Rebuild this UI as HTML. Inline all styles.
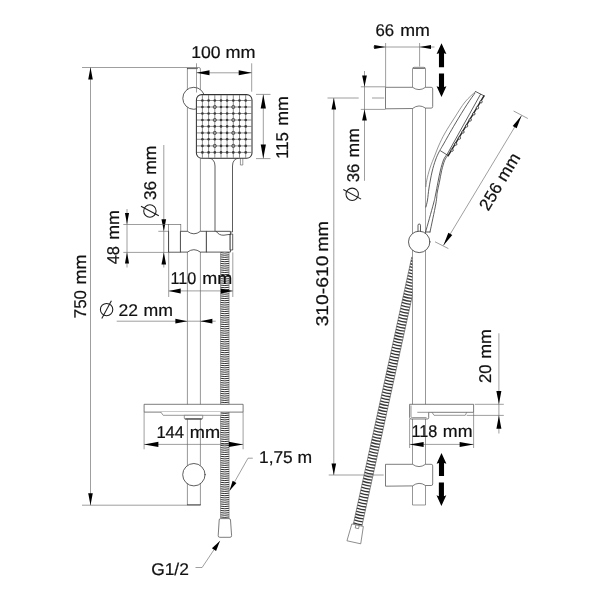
<!DOCTYPE html>
<html><head><meta charset="utf-8"><title>Shower set dimensions</title>
<style>
html,body{margin:0;padding:0;background:#fff;}
body{width:600px;height:600px;overflow:hidden;font-family:"Liberation Sans",sans-serif;}
svg{display:block;will-change:transform;filter:grayscale(1);}
svg text{font-family:"Liberation Sans",sans-serif;fill:#111;stroke:#111;stroke-width:0.22;text-rendering:geometricPrecision;}
.o{stroke:#333;stroke-width:0.8;fill:#fff;stroke-linejoin:round;stroke-linecap:round;}
.n{stroke:#333;stroke-width:0.8;fill:none;stroke-linejoin:round;stroke-linecap:round;}
.g{stroke:#6a6a6a;stroke-width:0.7;fill:#fff;}
.gn{stroke:#6a6a6a;stroke-width:0.7;fill:none;}
.d{stroke:#6a6a6a;stroke-width:0.65;fill:none;}
.t{stroke:#1c1c1c;stroke-width:1.05;fill:none;}
.m{stroke:#505050;stroke-width:0.75;fill:#fff;stroke-linejoin:round;}
.a{fill:#000;stroke:none;}
.k{fill:#000;stroke:none;}
</style></head>
<body>
<svg width="600" height="600" viewBox="0 0 600 600">
<rect x="0" y="0" width="600" height="600" fill="#fff"/>
<path class="g" d="M187.4,505 V67.5 H198.9 Q200.4,67.5 200.4,69 V505 Z"/>
<line class="n" x1="187.4" y1="504.9" x2="200.4" y2="504.9"/>
<line class="n" x1="187.4" y1="68.6" x2="197.4" y2="68.6"/>
<circle class="o" cx="193.8" cy="98.3" r="11"/>
<path class="o" d="M209.0,158 Q215,159 215,166 V232 H232.5 V166 Q232.5,159 238.6,158 Z"/>
<path class="g" d="M240.4,158 V165 H242.8 V158"/>
<rect class="o" style="stroke-width:1.05" x="196.4" y="94.6" width="55.6" height="63.7" rx="5.3" ry="5.3"/>
<g stroke="#5a5a5a" stroke-width="0.7" fill="none"><line x1="202.4" y1="95.1" x2="202.4" y2="157.8"/><line x1="208.6" y1="95.1" x2="208.6" y2="157.8"/><line x1="214.8" y1="95.1" x2="214.8" y2="157.8"/><line x1="221.0" y1="95.1" x2="221.0" y2="157.8"/><line x1="227.1" y1="95.1" x2="227.1" y2="157.8"/><line x1="233.3" y1="95.1" x2="233.3" y2="157.8"/><line x1="239.5" y1="95.1" x2="239.5" y2="157.8"/><line x1="245.7" y1="95.1" x2="245.7" y2="157.8"/><line x1="196.9" y1="100.5" x2="251.5" y2="100.5"/><line x1="196.9" y1="107.0" x2="251.5" y2="107.0"/><line x1="196.9" y1="113.5" x2="251.5" y2="113.5"/><line x1="196.9" y1="120.0" x2="251.5" y2="120.0"/><line x1="196.9" y1="126.4" x2="251.5" y2="126.4"/><line x1="196.9" y1="132.9" x2="251.5" y2="132.9"/><line x1="196.9" y1="139.3" x2="251.5" y2="139.3"/><line x1="196.9" y1="145.9" x2="251.5" y2="145.9"/><line x1="196.9" y1="152.4" x2="251.5" y2="152.4"/></g>
<g fill="#3a3a3a"><circle cx="202.4" cy="100.5" r="1.3"/><circle cx="202.4" cy="107.0" r="1.3"/><circle cx="202.4" cy="113.5" r="1.3"/><circle cx="202.4" cy="120.0" r="1.3"/><circle cx="202.4" cy="126.4" r="1.3"/><circle cx="202.4" cy="132.9" r="1.3"/><circle cx="202.4" cy="139.3" r="1.3"/><circle cx="202.4" cy="145.9" r="1.3"/><circle cx="202.4" cy="152.4" r="1.3"/><circle cx="208.6" cy="100.5" r="1.3"/><circle cx="208.6" cy="107.0" r="1.3"/><circle cx="208.6" cy="113.5" r="1.3"/><circle cx="208.6" cy="120.0" r="1.3"/><circle cx="208.6" cy="126.4" r="1.3"/><circle cx="208.6" cy="132.9" r="1.3"/><circle cx="208.6" cy="139.3" r="1.3"/><circle cx="208.6" cy="145.9" r="1.3"/><circle cx="208.6" cy="152.4" r="1.3"/><circle cx="214.8" cy="100.5" r="1.3"/><circle cx="214.8" cy="107.0" r="1.3"/><circle cx="214.8" cy="113.5" r="1.3"/><circle cx="214.8" cy="120.0" r="1.3"/><circle cx="214.8" cy="126.4" r="1.3"/><circle cx="214.8" cy="132.9" r="1.3"/><circle cx="214.8" cy="139.3" r="1.3"/><circle cx="214.8" cy="145.9" r="1.3"/><circle cx="214.8" cy="152.4" r="1.3"/><circle cx="221.0" cy="100.5" r="1.3"/><circle cx="221.0" cy="107.0" r="1.3"/><circle cx="221.0" cy="113.5" r="1.3"/><circle cx="221.0" cy="120.0" r="1.3"/><circle cx="221.0" cy="126.4" r="1.3"/><circle cx="221.0" cy="132.9" r="1.3"/><circle cx="221.0" cy="139.3" r="1.3"/><circle cx="221.0" cy="145.9" r="1.3"/><circle cx="221.0" cy="152.4" r="1.3"/><circle cx="227.1" cy="100.5" r="1.3"/><circle cx="227.1" cy="107.0" r="1.3"/><circle cx="227.1" cy="113.5" r="1.3"/><circle cx="227.1" cy="120.0" r="1.3"/><circle cx="227.1" cy="126.4" r="1.3"/><circle cx="227.1" cy="132.9" r="1.3"/><circle cx="227.1" cy="139.3" r="1.3"/><circle cx="227.1" cy="145.9" r="1.3"/><circle cx="227.1" cy="152.4" r="1.3"/><circle cx="233.3" cy="100.5" r="1.3"/><circle cx="233.3" cy="107.0" r="1.3"/><circle cx="233.3" cy="113.5" r="1.3"/><circle cx="233.3" cy="120.0" r="1.3"/><circle cx="233.3" cy="126.4" r="1.3"/><circle cx="233.3" cy="132.9" r="1.3"/><circle cx="233.3" cy="139.3" r="1.3"/><circle cx="233.3" cy="145.9" r="1.3"/><circle cx="233.3" cy="152.4" r="1.3"/><circle cx="239.5" cy="100.5" r="1.3"/><circle cx="239.5" cy="107.0" r="1.3"/><circle cx="239.5" cy="113.5" r="1.3"/><circle cx="239.5" cy="120.0" r="1.3"/><circle cx="239.5" cy="126.4" r="1.3"/><circle cx="239.5" cy="132.9" r="1.3"/><circle cx="239.5" cy="139.3" r="1.3"/><circle cx="239.5" cy="145.9" r="1.3"/><circle cx="239.5" cy="152.4" r="1.3"/><circle cx="245.7" cy="100.5" r="1.3"/><circle cx="245.7" cy="107.0" r="1.3"/><circle cx="245.7" cy="113.5" r="1.3"/><circle cx="245.7" cy="120.0" r="1.3"/><circle cx="245.7" cy="126.4" r="1.3"/><circle cx="245.7" cy="132.9" r="1.3"/><circle cx="245.7" cy="139.3" r="1.3"/><circle cx="245.7" cy="145.9" r="1.3"/><circle cx="245.7" cy="152.4" r="1.3"/></g>
<g fill="#9a9a9a" stroke="#444" stroke-width="0.8"><circle cx="214.8" cy="107.0" r="1.6"/><circle cx="214.8" cy="120.0" r="1.6"/><circle cx="214.8" cy="132.9" r="1.6"/><circle cx="214.8" cy="145.9" r="1.6"/><circle cx="233.3" cy="107.0" r="1.6"/><circle cx="233.3" cy="120.0" r="1.6"/><circle cx="233.3" cy="132.9" r="1.6"/><circle cx="233.3" cy="145.9" r="1.6"/></g>
<rect class="g" x="168.6" y="224.5" width="12.2" height="27.6"/>
<line class="n" x1="168.6" y1="231.3" x2="168.6" y2="252.1"/>
<path class="o" d="M180.8,231.3 H187.4 Q193.9,236.3 200.4,231.3 H206.7 V252.1 H200.4 Q193.9,247.3 187.4,252.1 H180.8 Z"/>
<path class="o" d="M206.7,231.3 H230.4 V252.1 H206.7 Z"/>
<path class="o" d="M230.4,234 H232.7 V250 H230.4 Z"/>
<path class="n" d="M216.3,231.5 Q219,235.6 224,235.2 Q228.5,234.4 230.4,234.4"/>
<rect x="220.5" y="252.1" width="8.6" height="266.5" fill="#fff"/>
<path d="M220.50,252.60Q224.80,253.50 229.10,252.60M220.50,254.77Q224.80,255.67 229.10,254.77M220.50,256.93Q224.80,257.83 229.10,256.93M220.50,259.10Q224.80,260.00 229.10,259.10M220.50,261.27Q224.80,262.17 229.10,261.27M220.50,263.43Q224.80,264.33 229.10,263.43M220.50,265.60Q224.80,266.50 229.10,265.60M220.50,267.77Q224.80,268.67 229.10,267.77M220.50,269.94Q224.80,270.84 229.10,269.94M220.50,272.10Q224.80,273.00 229.10,272.10M220.50,274.27Q224.80,275.17 229.10,274.27M220.50,276.44Q224.80,277.34 229.10,276.44M220.50,278.60Q224.80,279.50 229.10,278.60M220.50,280.77Q224.80,281.67 229.10,280.77M220.50,282.94Q224.80,283.84 229.10,282.94M220.50,285.10Q224.80,286.00 229.10,285.10M220.50,287.27Q224.80,288.17 229.10,287.27M220.50,289.44Q224.80,290.34 229.10,289.44M220.50,291.61Q224.80,292.51 229.10,291.61M220.50,293.77Q224.80,294.67 229.10,293.77M220.50,295.94Q224.80,296.84 229.10,295.94M220.50,298.11Q224.80,299.01 229.10,298.11M220.50,300.27Q224.80,301.17 229.10,300.27M220.50,302.44Q224.80,303.34 229.10,302.44M220.50,304.61Q224.80,305.51 229.10,304.61M220.50,306.77Q224.80,307.67 229.10,306.77M220.50,308.94Q224.80,309.84 229.10,308.94M220.50,311.11Q224.80,312.01 229.10,311.11M220.50,313.28Q224.80,314.18 229.10,313.28M220.50,315.44Q224.80,316.34 229.10,315.44M220.50,317.61Q224.80,318.51 229.10,317.61M220.50,319.78Q224.80,320.68 229.10,319.78M220.50,321.94Q224.80,322.84 229.10,321.94M220.50,324.11Q224.80,325.01 229.10,324.11M220.50,326.28Q224.80,327.18 229.10,326.28M220.50,328.44Q224.80,329.34 229.10,328.44M220.50,330.61Q224.80,331.51 229.10,330.61M220.50,332.78Q224.80,333.68 229.10,332.78M220.50,334.95Q224.80,335.85 229.10,334.95M220.50,337.11Q224.80,338.01 229.10,337.11M220.50,339.28Q224.80,340.18 229.10,339.28M220.50,341.45Q224.80,342.35 229.10,341.45M220.50,343.61Q224.80,344.51 229.10,343.61M220.50,345.78Q224.80,346.68 229.10,345.78M220.50,347.95Q224.80,348.85 229.10,347.95M220.50,350.11Q224.80,351.01 229.10,350.11M220.50,352.28Q224.80,353.18 229.10,352.28M220.50,354.45Q224.80,355.35 229.10,354.45M220.50,356.62Q224.80,357.52 229.10,356.62M220.50,358.78Q224.80,359.68 229.10,358.78M220.50,360.95Q224.80,361.85 229.10,360.95M220.50,363.12Q224.80,364.02 229.10,363.12M220.50,365.28Q224.80,366.18 229.10,365.28M220.50,367.45Q224.80,368.35 229.10,367.45M220.50,369.62Q224.80,370.52 229.10,369.62M220.50,371.78Q224.80,372.68 229.10,371.78M220.50,373.95Q224.80,374.85 229.10,373.95M220.50,376.12Q224.80,377.02 229.10,376.12M220.50,378.29Q224.80,379.19 229.10,378.29M220.50,380.45Q224.80,381.35 229.10,380.45M220.50,382.62Q224.80,383.52 229.10,382.62M220.50,384.79Q224.80,385.69 229.10,384.79M220.50,386.95Q224.80,387.85 229.10,386.95M220.50,389.12Q224.80,390.02 229.10,389.12M220.50,391.29Q224.80,392.19 229.10,391.29M220.50,393.45Q224.80,394.35 229.10,393.45M220.50,395.62Q224.80,396.52 229.10,395.62M220.50,397.79Q224.80,398.69 229.10,397.79M220.50,399.96Q224.80,400.86 229.10,399.96M220.50,402.12Q224.80,403.02 229.10,402.12M220.50,404.29Q224.80,405.19 229.10,404.29M220.50,406.46Q224.80,407.36 229.10,406.46M220.50,408.62Q224.80,409.52 229.10,408.62M220.50,410.79Q224.80,411.69 229.10,410.79M220.50,412.96Q224.80,413.86 229.10,412.96M220.50,415.12Q224.80,416.02 229.10,415.12M220.50,417.29Q224.80,418.19 229.10,417.29M220.50,419.46Q224.80,420.36 229.10,419.46M220.50,421.63Q224.80,422.53 229.10,421.63M220.50,423.79Q224.80,424.69 229.10,423.79M220.50,425.96Q224.80,426.86 229.10,425.96M220.50,428.13Q224.80,429.03 229.10,428.13M220.50,430.29Q224.80,431.19 229.10,430.29M220.50,432.46Q224.80,433.36 229.10,432.46M220.50,434.63Q224.80,435.53 229.10,434.63M220.50,436.79Q224.80,437.69 229.10,436.79M220.50,438.96Q224.80,439.86 229.10,438.96M220.50,441.13Q224.80,442.03 229.10,441.13M220.50,443.30Q224.80,444.20 229.10,443.30M220.50,445.46Q224.80,446.36 229.10,445.46M220.50,447.63Q224.80,448.53 229.10,447.63M220.50,449.80Q224.80,450.70 229.10,449.80M220.50,451.96Q224.80,452.86 229.10,451.96M220.50,454.13Q224.80,455.03 229.10,454.13M220.50,456.30Q224.80,457.20 229.10,456.30M220.50,458.46Q224.80,459.36 229.10,458.46M220.50,460.63Q224.80,461.53 229.10,460.63M220.50,462.80Q224.80,463.70 229.10,462.80M220.50,464.97Q224.80,465.87 229.10,464.97M220.50,467.13Q224.80,468.03 229.10,467.13M220.50,469.30Q224.80,470.20 229.10,469.30M220.50,471.47Q224.80,472.37 229.10,471.47M220.50,473.63Q224.80,474.53 229.10,473.63M220.50,475.80Q224.80,476.70 229.10,475.80M220.50,477.97Q224.80,478.87 229.10,477.97M220.50,480.13Q224.80,481.03 229.10,480.13M220.50,482.30Q224.80,483.20 229.10,482.30M220.50,484.47Q224.80,485.37 229.10,484.47M220.50,486.64Q224.80,487.54 229.10,486.64M220.50,488.80Q224.80,489.70 229.10,488.80M220.50,490.97Q224.80,491.87 229.10,490.97M220.50,493.14Q224.80,494.04 229.10,493.14M220.50,495.30Q224.80,496.20 229.10,495.30M220.50,497.47Q224.80,498.37 229.10,497.47M220.50,499.64Q224.80,500.54 229.10,499.64M220.50,501.80Q224.80,502.70 229.10,501.80M220.50,503.97Q224.80,504.87 229.10,503.97M220.50,506.14Q224.80,507.04 229.10,506.14M220.50,508.31Q224.80,509.21 229.10,508.31M220.50,510.47Q224.80,511.37 229.10,510.47M220.50,512.64Q224.80,513.54 229.10,512.64M220.50,514.81Q224.80,515.71 229.10,514.81M220.50,516.97Q224.80,517.87 229.10,516.97" stroke="#262626" stroke-width="0.95" fill="none"/>
<path d="M220.5,252.1V518.6M229.1,252.1V518.6" stroke="#666" stroke-width="0.55" fill="none"/>
<path class="m" d="M219.2,520 Q219.2,518.6 220.6,518.6 H229.0 Q230.4,518.6 230.5,520 L231.6,535.7 Q231.6,537.3 230,537.3 H219.8 Q218.1,537.3 218.2,535.7 Z"/>
<rect class="m" x="144.1" y="404.3" width="99" height="7.8"/>
<path d="M160.8,412.1 L163.2,415.3 H220.5 V412.1 Z" fill="#fff" stroke="none"/>
<path class="gn" d="M160.8,412.1 L163.2,415.3 H220.5"/>
<path class="g" d="M184.3,415.3 H202.7 V418 Q202.7,419.2 201.5,419.2 H185.5 Q184.3,419.2 184.3,418 Z"/>
<path d="M185.2,418.9 H201.8" stroke="#333" stroke-width="1.1" fill="none"/>
<circle class="o" cx="193.9" cy="474.7" r="11.2"/>
<line class="d" x1="82" y1="67.5" x2="187.4" y2="67.5"/>
<line class="d" x1="82" y1="505.2" x2="187.4" y2="505.2"/>
<line class="d" x1="90.5" y1="67.5" x2="90.5" y2="505.2"/>
<polygon class="a" points="90.50,67.50 92.80,79.50 88.20,79.50"/>
<polygon class="a" points="90.50,505.20 88.20,493.20 92.80,493.20"/>
<line class="d" x1="196.5" y1="63.3" x2="196.5" y2="92.5"/>
<line class="d" x1="251.7" y1="63.3" x2="251.7" y2="91.7"/>
<line class="d" x1="196.5" y1="72.8" x2="251.7" y2="72.8"/>
<polygon class="a" points="196.50,72.80 209.50,70.30 209.50,75.30"/>
<polygon class="a" points="251.70,72.80 238.70,75.30 238.70,70.30"/>
<line class="d" x1="256" y1="94.4" x2="270.5" y2="94.4"/>
<line class="d" x1="256" y1="158.6" x2="270.5" y2="158.6"/>
<line class="d" x1="263.3" y1="94.6" x2="263.3" y2="158.3"/>
<polygon class="a" points="263.30,94.40 265.90,108.60 260.70,108.60"/>
<polygon class="a" points="263.30,158.60 260.70,144.40 265.90,144.40"/>
<line class="d" x1="163.8" y1="145" x2="163.8" y2="267.5"/>
<polygon class="a" points="163.80,231.30 161.50,219.30 166.10,219.30"/>
<polygon class="a" points="163.80,252.40 166.10,264.40 161.50,264.40"/>
<line class="d" x1="158.3" y1="231.3" x2="168.6" y2="231.3"/>
<line class="d" x1="127" y1="209" x2="127" y2="267.5"/>
<polygon class="a" points="127.00,224.30 124.95,213.10 129.05,213.10"/>
<polygon class="a" points="127.00,252.20 129.05,263.40 124.95,263.40"/>
<line class="d" x1="123.3" y1="224.5" x2="168.6" y2="224.5"/>
<line class="d" x1="123.3" y1="252.4" x2="180.8" y2="252.4"/>
<line class="d" x1="168.7" y1="252.4" x2="168.7" y2="297"/>
<line class="d" x1="232.8" y1="252.4" x2="232.8" y2="297"/>
<line class="d" x1="168.7" y1="290.9" x2="232.8" y2="290.9"/>
<polygon class="a" points="168.70,290.90 180.70,288.40 180.70,293.40"/>
<polygon class="a" points="232.80,290.90 220.80,293.40 220.80,288.40"/>
<line class="d" x1="116.7" y1="321.2" x2="215.7" y2="321.2"/>
<polygon class="a" points="187.40,321.20 175.40,323.60 175.40,318.80"/>
<polygon class="a" points="200.40,321.20 212.40,318.80 212.40,323.60"/>
<line class="d" x1="144.1" y1="412.1" x2="144.1" y2="449.3"/>
<line class="d" x1="243.1" y1="412.1" x2="243.1" y2="449.3"/>
<line class="d" x1="144.1" y1="444.4" x2="243.1" y2="444.4"/>
<polygon class="a" points="144.10,444.40 158.40,441.85 158.40,446.95"/>
<polygon class="a" points="243.10,444.40 228.80,446.95 228.80,441.85"/>
<polyline class="d" points="252.8,458.2 248,458.2 229.5,490.8"/>
<polygon class="a" points="229.50,490.80 232.63,480.84 236.45,483.02"/>
<polyline class="d" points="195.5,567.5 202.1,567.5 219.9,540.9"/>
<polygon class="a" points="219.90,540.90 216.08,551.10 211.93,548.32"/>
<g transform="translate(418.5,247) rotate(12.35)"><rect x="-4.4" y="11" width="8.8" height="273.8" fill="#fff"/><path d="M-4.40,12.00Q0.00,12.70 4.40,12.00M-4.40,15.05Q0.00,15.75 4.40,15.05M-4.40,18.10Q0.00,18.80 4.40,18.10M-4.40,21.15Q0.00,21.85 4.40,21.15M-4.40,24.20Q0.00,24.90 4.40,24.20M-4.40,27.25Q0.00,27.95 4.40,27.25M-4.40,30.30Q0.00,31.00 4.40,30.30M-4.40,33.35Q0.00,34.05 4.40,33.35M-4.40,36.40Q0.00,37.10 4.40,36.40M-4.40,39.45Q0.00,40.15 4.40,39.45M-4.40,42.50Q0.00,43.20 4.40,42.50M-4.40,45.55Q0.00,46.25 4.40,45.55M-4.40,48.60Q0.00,49.30 4.40,48.60M-4.40,51.65Q0.00,52.35 4.40,51.65M-4.40,54.70Q0.00,55.40 4.40,54.70M-4.40,57.75Q0.00,58.45 4.40,57.75M-4.40,60.80Q0.00,61.50 4.40,60.80M-4.40,63.85Q0.00,64.55 4.40,63.85M-4.40,66.90Q0.00,67.60 4.40,66.90M-4.40,69.95Q0.00,70.65 4.40,69.95M-4.40,73.00Q0.00,73.70 4.40,73.00M-4.40,76.05Q0.00,76.75 4.40,76.05M-4.40,79.10Q0.00,79.80 4.40,79.10M-4.40,82.15Q0.00,82.85 4.40,82.15M-4.40,85.20Q0.00,85.90 4.40,85.20M-4.40,88.25Q0.00,88.95 4.40,88.25M-4.40,91.30Q0.00,92.00 4.40,91.30M-4.40,94.35Q0.00,95.05 4.40,94.35M-4.40,97.40Q0.00,98.10 4.40,97.40M-4.40,100.45Q0.00,101.15 4.40,100.45M-4.40,103.50Q0.00,104.20 4.40,103.50M-4.40,106.55Q0.00,107.25 4.40,106.55M-4.40,109.60Q0.00,110.30 4.40,109.60M-4.40,112.65Q0.00,113.35 4.40,112.65M-4.40,115.70Q0.00,116.40 4.40,115.70M-4.40,118.75Q0.00,119.45 4.40,118.75M-4.40,121.80Q0.00,122.50 4.40,121.80M-4.40,124.85Q0.00,125.55 4.40,124.85M-4.40,127.90Q0.00,128.60 4.40,127.90M-4.40,130.95Q0.00,131.65 4.40,130.95M-4.40,134.00Q0.00,134.70 4.40,134.00M-4.40,137.05Q0.00,137.75 4.40,137.05M-4.40,140.10Q0.00,140.80 4.40,140.10M-4.40,143.15Q0.00,143.85 4.40,143.15M-4.40,146.20Q0.00,146.90 4.40,146.20M-4.40,149.25Q0.00,149.95 4.40,149.25M-4.40,152.30Q0.00,153.00 4.40,152.30M-4.40,155.35Q0.00,156.05 4.40,155.35M-4.40,158.40Q0.00,159.10 4.40,158.40M-4.40,161.45Q0.00,162.15 4.40,161.45M-4.40,164.50Q0.00,165.20 4.40,164.50M-4.40,167.55Q0.00,168.25 4.40,167.55M-4.40,170.60Q0.00,171.30 4.40,170.60M-4.40,173.65Q0.00,174.35 4.40,173.65M-4.40,176.70Q0.00,177.40 4.40,176.70M-4.40,179.75Q0.00,180.45 4.40,179.75M-4.40,182.80Q0.00,183.50 4.40,182.80M-4.40,185.85Q0.00,186.55 4.40,185.85M-4.40,188.90Q0.00,189.60 4.40,188.90M-4.40,191.95Q0.00,192.65 4.40,191.95M-4.40,195.00Q0.00,195.70 4.40,195.00M-4.40,198.05Q0.00,198.75 4.40,198.05M-4.40,201.10Q0.00,201.80 4.40,201.10M-4.40,204.15Q0.00,204.85 4.40,204.15M-4.40,207.20Q0.00,207.90 4.40,207.20M-4.40,210.25Q0.00,210.95 4.40,210.25M-4.40,213.30Q0.00,214.00 4.40,213.30M-4.40,216.35Q0.00,217.05 4.40,216.35M-4.40,219.40Q0.00,220.10 4.40,219.40M-4.40,222.45Q0.00,223.15 4.40,222.45M-4.40,225.50Q0.00,226.20 4.40,225.50M-4.40,228.55Q0.00,229.25 4.40,228.55M-4.40,231.60Q0.00,232.30 4.40,231.60M-4.40,234.65Q0.00,235.35 4.40,234.65M-4.40,237.70Q0.00,238.40 4.40,237.70M-4.40,240.75Q0.00,241.45 4.40,240.75M-4.40,243.80Q0.00,244.50 4.40,243.80M-4.40,246.85Q0.00,247.55 4.40,246.85M-4.40,249.90Q0.00,250.60 4.40,249.90M-4.40,252.95Q0.00,253.65 4.40,252.95M-4.40,256.00Q0.00,256.70 4.40,256.00M-4.40,259.05Q0.00,259.75 4.40,259.05M-4.40,262.10Q0.00,262.80 4.40,262.10M-4.40,265.15Q0.00,265.85 4.40,265.15M-4.40,268.20Q0.00,268.90 4.40,268.20M-4.40,271.25Q0.00,271.95 4.40,271.25M-4.40,274.30Q0.00,275.00 4.40,274.30M-4.40,277.35Q0.00,278.05 4.40,277.35M-4.40,280.40Q0.00,281.10 4.40,280.40M-4.40,283.45Q0.00,284.15 4.40,283.45" stroke="#363636" stroke-width="1.4" fill="none"/><path d="M-4.4,11V284.8M4.4,11V284.8" stroke="#555" stroke-width="0.6" fill="none"/><path class="g" d="M-5.9,284.8 H5.9 L7.05,302.3 H-7.05 Z"/><rect class="g" x="-1.7" y="284.8" width="3.4" height="3.2"/></g>
<path class="g" d="M412.5,505 V69 Q412.5,67.3 414.1,67.3 H423.9 Q425.5,67.3 425.5,69 V505 Z"/>
<line class="n" x1="413.5" y1="68.3" x2="424.5" y2="68.3"/>
<path class="m" d="M385.5,87.3 H412.5 Q419.0,91.89999999999999 425.5,87.3 H431.2 Q432.7,87.3 432.7,88.8 V106.6 Q432.7,108.1 431.2,108.1 H425.5 Q419.0,103.6 412.5,108.5 L385.5,108.8 Z"/>
<path class="m" d="M385.5,464.3 H412.5 Q419.0,468.90000000000003 425.5,464.3 H431.2 Q432.7,464.3 432.7,465.8 V484.0 Q432.7,485.5 431.2,485.5 H425.5 Q419.0,481.0 412.5,485.9 L385.5,486.2 Z"/>
<polygon fill="#fff" stroke="none" points="475.5,91.5 465,102 455,117 445,133 439,145 435,155 430,168 426.8,180 425.9,187 425.9,232 430,232 430,232 435.8,204 437.3,192 439.4,182.3 441.7,170.4 444.6,160.6 447.6,155.6 455,144 484,95.8"/>
<path class="gn" d="M475.50,91.50 C473.75,93.25 468.42,97.75 465.00,102.00 C461.58,106.25 458.33,111.83 455.00,117.00 C451.67,122.17 447.67,128.33 445.00,133.00 C442.33,137.67 440.67,141.33 439.00,145.00 C437.33,148.67 436.50,151.17 435.00,155.00 C433.50,158.83 431.37,163.83 430.00,168.00 C428.63,172.17 427.48,176.83 426.80,180.00 C426.12,183.17 426.05,185.83 425.90,187.00"/>
<path class="n" d="M475.00,93.00 C473.67,94.92 470.33,99.33 467.00,104.50 C463.67,109.67 459.00,117.25 455.00,124.00 C451.00,130.75 445.67,140.33 443.00,145.00 C440.33,149.67 440.25,149.50 439.00,152.00 C437.75,154.50 436.67,156.67 435.50,160.00 C434.33,163.33 433.08,167.33 432.00,172.00 C430.92,176.67 429.75,183.33 429.00,188.00 C428.25,192.67 428.02,196.83 427.50,200.00 C426.98,203.17 426.17,205.83 425.90,207.00"/>
<path class="n" d="M446.50,155.00 C446.00,155.83 444.50,157.50 443.50,160.00 C442.50,162.50 441.42,166.33 440.50,170.00 C439.58,173.67 438.83,177.83 438.00,182.00 C437.17,186.17 436.27,191.33 435.50,195.00 C434.73,198.67 435.05,197.83 433.40,204.00 C431.75,210.17 426.90,227.33 425.60,232.00"/>
<path class="n" d="M447.60,155.60 C447.10,156.43 445.58,158.13 444.60,160.60 C443.62,163.07 442.57,166.78 441.70,170.40 C440.83,174.02 440.13,178.70 439.40,182.30 C438.67,185.90 437.90,188.38 437.30,192.00 C436.70,195.62 437.02,197.33 435.80,204.00 C434.58,210.67 430.97,227.33 430.00,232.00"/>
<line class="n" x1="425.6" y1="232" x2="430" y2="232"/>
<path class="n" d="M475.5,91.5 L484,95.8"/>
<path class="n" d="M480.5,94.3 L447.0,154.6"/>
<path d="M484,95.8 L448.2,155.6" stroke="#2a2a2a" stroke-width="1.5" fill="none" stroke-linecap="round"/>
<line class="n" x1="440.5" y1="150.8" x2="448.2" y2="155.6"/>
<g fill="#fff" stroke="#2a2a2a" stroke-width="0.8"><circle cx="481.08" cy="101.75" r="1.2"/><circle cx="477.46" cy="107.79" r="1.2"/><circle cx="473.84" cy="113.84" r="1.2"/><circle cx="470.22" cy="119.89" r="1.2"/><circle cx="466.60" cy="125.94" r="1.2"/><circle cx="462.98" cy="131.99" r="1.2"/><circle cx="459.36" cy="138.04" r="1.2"/><circle cx="455.74" cy="144.09" r="1.2"/><circle cx="452.12" cy="150.14" r="1.2"/></g>
<path class="o" d="M418,231.5 V225.2 Q418,224 419.2,224 Q420.5,224 420.5,225.2 V231.5"/>
<circle class="o" cx="419.2" cy="241.9" r="10.7"/>
<path class="m" d="M409.6,404.3 H473.6 V412.3 H428.7 V417.6 Q428.7,419 427.3,419 H411 Q409.6,419 409.6,417.6 Z"/>
<path class="gn" d="M417.3,412.3 H428.7 M432,412.3 L434,415.3 H465.3 L466.7,412.3"/>
<path class="gn" d="M411,405.5 V416.5 Q411,417.6 412.2,417.6 H426.5" stroke="#999"/>
<path class="k" d="M441.5,43.3 L446.4,54.099999999999994 L444.05,53.199999999999996 V67.2 H438.95 V53.199999999999996 L436.6,54.099999999999994 Z"/>
<path class="k" d="M441.5,97.0 L446.4,86.2 L444.05,87.10000000000001 V73.4 H438.95 V87.10000000000001 L436.6,86.2 Z"/>
<path class="k" d="M441.5,453.0 L446.4,463.8 L444.05,462.90000000000003 V476.0 H438.95 V462.90000000000003 L436.6,463.8 Z"/>
<path class="k" d="M441.4,506.1 L446.29999999999995,495.3 L443.95,496.2 V482.4 H438.84999999999997 V496.2 L436.5,495.3 Z"/>
<line class="d" x1="385.6" y1="43" x2="385.6" y2="87.3"/>
<line class="d" x1="419.6" y1="43" x2="419.6" y2="66.5"/>
<line class="d" x1="373" y1="47" x2="434.5" y2="47"/>
<polygon class="a" points="385.60,47.00 374.20,48.95 374.20,45.05"/>
<polygon class="a" points="419.60,47.00 431.00,45.05 431.00,48.95"/>
<line class="d" x1="360.8" y1="86.8" x2="385.5" y2="86.8"/>
<line class="d" x1="360.8" y1="109.4" x2="385.5" y2="109.4"/>
<line class="d" x1="364.5" y1="71" x2="364.5" y2="180.8"/>
<polygon class="a" points="364.50,86.80 362.15,75.60 366.85,75.60"/>
<polygon class="a" points="364.50,109.40 366.85,120.60 362.15,120.60"/>
<line class="d" x1="327.5" y1="98" x2="358.7" y2="98"/>
<line class="d" x1="372" y1="98" x2="384.2" y2="98"/>
<line class="d" x1="333.8" y1="98" x2="333.8" y2="475"/>
<line class="d" x1="328.7" y1="475" x2="383.7" y2="475"/>
<polygon class="a" points="333.80,98.00 336.10,109.60 331.50,109.60"/>
<polygon class="a" points="333.80,475.00 331.50,463.40 336.10,463.40"/>
<line class="d" x1="443.4" y1="245.4" x2="521.6" y2="115.6"/>
<polygon class="a" points="443.40,245.40 448.34,232.74 452.29,235.11"/>
<polygon class="a" points="521.60,115.60 516.66,128.26 512.71,125.89"/>
<line class="d" x1="435" y1="241.8" x2="448.4" y2="248.6"/>
<line class="d" x1="513.6" y1="111" x2="527.8" y2="118.5"/>
<line class="d" x1="474.8" y1="404.3" x2="503.8" y2="404.3"/>
<line class="d" x1="466.7" y1="415.4" x2="503.8" y2="415.4"/>
<line class="d" x1="498.9" y1="333.3" x2="498.9" y2="433.5"/>
<polygon class="a" points="498.90,404.30 496.40,390.90 501.40,390.90"/>
<polygon class="a" points="498.90,415.40 501.40,428.80 496.40,428.80"/>
<line class="d" x1="409.6" y1="419" x2="409.6" y2="448"/>
<line class="d" x1="473.6" y1="412.3" x2="473.6" y2="448"/>
<line class="d" x1="409.6" y1="444.4" x2="473.6" y2="444.4"/>
<polygon class="a" points="409.60,444.40 423.60,441.90 423.60,446.90"/>
<polygon class="a" points="473.60,444.40 459.60,446.90 459.60,441.90"/>
<g transform="translate(0 58.0)"><text x="191.31" y="0" font-size="17.0" textLength="29.33" lengthAdjust="spacingAndGlyphs">100</text><text x="225.45" y="0" font-size="17.0" textLength="29.98" lengthAdjust="spacingAndGlyphs">mm</text></g>
<g transform="translate(0 283.8)"><text x="170.47" y="0" font-size="17.0" textLength="25.78" lengthAdjust="spacingAndGlyphs">110</text><text x="202.15" y="0" font-size="17.0" textLength="29.98" lengthAdjust="spacingAndGlyphs">mm</text></g>
<g transform="translate(0 438.0)"><text x="156.38" y="0" font-size="17.0" textLength="27.75" lengthAdjust="spacingAndGlyphs">144</text><text x="189.84" y="0" font-size="17.0" textLength="30.31" lengthAdjust="spacingAndGlyphs">mm</text></g>
<g transform="translate(0 315.9)"><text x="118.47" y="0" font-size="17.0" textLength="19.46" lengthAdjust="spacingAndGlyphs">22</text><text x="143.48" y="0" font-size="17.0" textLength="29.44" lengthAdjust="spacingAndGlyphs">mm</text></g>
<g><circle class="t" cx="106.6" cy="309.6" r="6.2"/><line class="t" x1="101.8" y1="318.5" x2="111.39999999999999" y2="300.70000000000005"/></g>
<g transform="translate(0 463.0)"><text x="259.03" y="0" font-size="17.0" textLength="33.75" lengthAdjust="spacingAndGlyphs">1,75</text><text x="297.48" y="0" font-size="17.0" textLength="14.62" lengthAdjust="spacingAndGlyphs">m</text></g>
<g transform="translate(0 574.8)"><text x="151.18" y="0" font-size="17.0" textLength="37.65" lengthAdjust="spacingAndGlyphs">G1/2</text></g>
<g transform="translate(0 36.4)"><text x="375.40" y="0" font-size="17.0" textLength="18.69" lengthAdjust="spacingAndGlyphs">66</text><text x="400.17" y="0" font-size="17.0" textLength="29.66" lengthAdjust="spacingAndGlyphs">mm</text></g>
<g transform="translate(0 437.2)"><text x="411.47" y="0" font-size="17.0" textLength="25.85" lengthAdjust="spacingAndGlyphs">118</text><text x="442.87" y="0" font-size="17.0" textLength="29.66" lengthAdjust="spacingAndGlyphs">mm</text></g>
<g transform="translate(287.8 0) rotate(-90)"><text x="-158.87" y="0" font-size="17.0" textLength="26.80" lengthAdjust="spacingAndGlyphs">115</text><text x="-125.83" y="0" font-size="17.0" textLength="29.66" lengthAdjust="spacingAndGlyphs">mm</text></g>
<g transform="translate(156.3 0) rotate(-90)"><text x="-200.00" y="0" font-size="17.0" textLength="19.11" lengthAdjust="spacingAndGlyphs">36</text><text x="-174.81" y="0" font-size="17.0" textLength="29.22" lengthAdjust="spacingAndGlyphs">mm</text></g>
<g transform="rotate(-90 149.9 211.0)"><circle class="t" cx="149.9" cy="211.0" r="6.2"/><line class="t" x1="145.1" y1="219.9" x2="154.70000000000002" y2="202.1"/></g>
<g transform="translate(119.0 0) rotate(-90)"><text x="-264.33" y="0" font-size="17.0" textLength="18.40" lengthAdjust="spacingAndGlyphs">48</text><text x="-239.83" y="0" font-size="17.0" textLength="29.66" lengthAdjust="spacingAndGlyphs">mm</text></g>
<g transform="translate(85.7 0) rotate(-90)"><text x="-318.22" y="0" font-size="17.0" textLength="28.23" lengthAdjust="spacingAndGlyphs">750</text><text x="-284.55" y="0" font-size="17.0" textLength="29.98" lengthAdjust="spacingAndGlyphs">mm</text></g>
<g transform="translate(359.0 0) rotate(-90)"><text x="-182.29" y="0" font-size="17.0" textLength="18.68" lengthAdjust="spacingAndGlyphs">36</text><text x="-157.52" y="0" font-size="17.0" textLength="29.33" lengthAdjust="spacingAndGlyphs">mm</text></g>
<g transform="rotate(-90 352.2 194.3)"><circle class="t" cx="352.2" cy="194.3" r="6.2"/><line class="t" x1="347.4" y1="203.20000000000002" x2="357.0" y2="185.4"/></g>
<g transform="translate(328.0 0) rotate(-90)"><text x="-326.38" y="0" font-size="17.0" textLength="70.79" lengthAdjust="spacingAndGlyphs">310-610</text><text x="-251.88" y="0" font-size="17.0" textLength="30.74" lengthAdjust="spacingAndGlyphs">mm</text></g>
<g transform="translate(491.0 0) rotate(-90)"><text x="-382.89" y="0" font-size="17.0" textLength="18.48" lengthAdjust="spacingAndGlyphs">20</text><text x="-358.83" y="0" font-size="17.0" textLength="29.66" lengthAdjust="spacingAndGlyphs">mm</text></g>
<g transform="translate(488.5 211.2) rotate(-58.93)"><text x="-0.51" y="0" font-size="17.0" textLength="28.51" lengthAdjust="spacingAndGlyphs">256</text><text x="33.17" y="0" font-size="17.0" textLength="29.66" lengthAdjust="spacingAndGlyphs">mm</text></g>
</svg>
</body></html>
